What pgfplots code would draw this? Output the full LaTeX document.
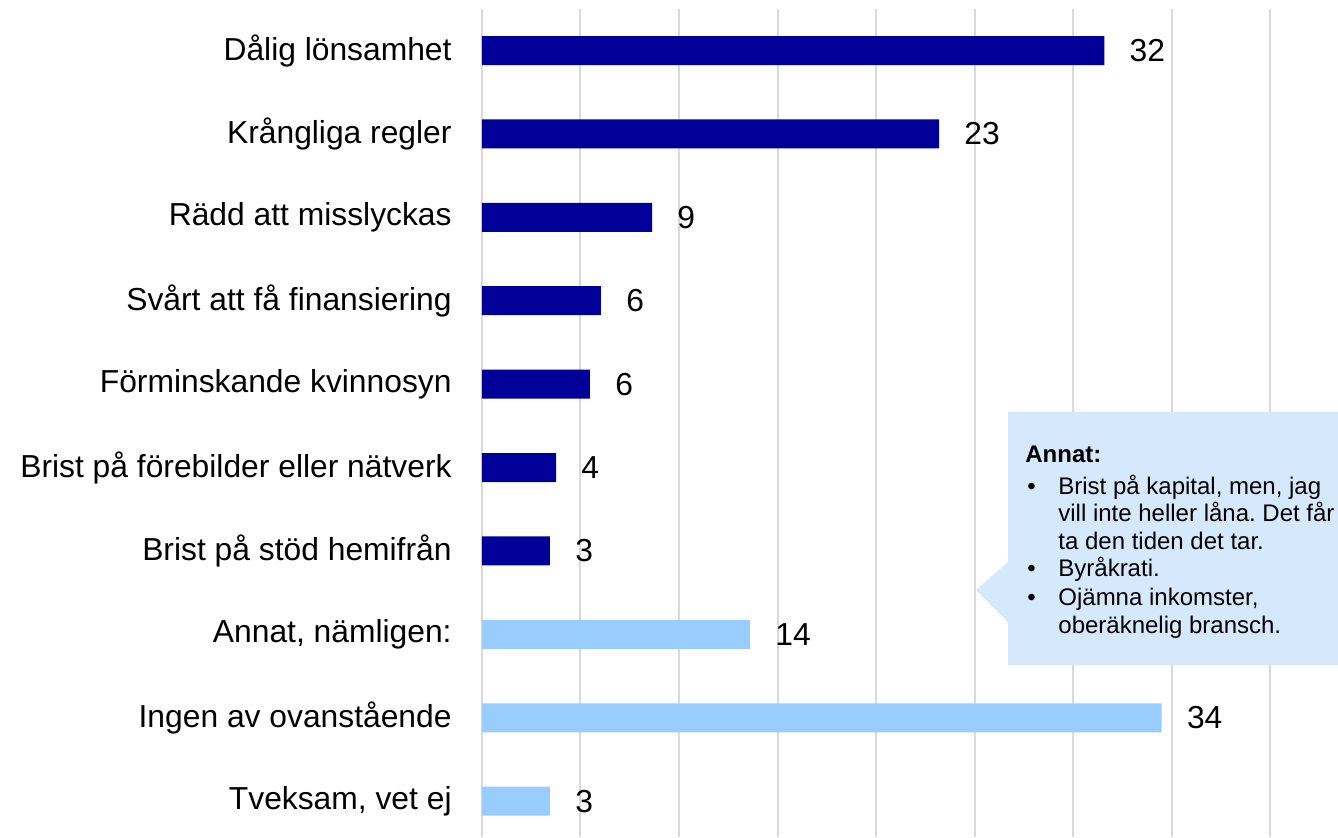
\documentclass[border=0pt]{standalone}
\usepackage{pgfplots}
\pgfplotsset{compat=1.18}
\usepackage{fontspec}
\setmainfont{Liberation Sans}
\frenchspacing
\definecolor{darkbar}{RGB}{0,0,153}
\definecolor{lightbar}{RGB}{153,204,255}
\definecolor{gridgray}{RGB}{217,217,217}
\definecolor{callout}{RGB}{214,232,252}

\begin{document}
\begin{tikzpicture}[x=1bp,y=1bp]
\path[use as bounding box] (-241,0) rectangle (428,418.5);
\begin{axis}[
  at={(0,0)}, anchor=south west,
  scale only axis,
  width=394bp, height=414.1bp,
  xmin=0, xmax=40,
  ymin=-0.5, ymax=9.43,
  y dir=reverse,
  xbar, bar width=14.5bp, bar shift=0pt,
  xtick={0,5,...,40}, xticklabels={},
  xmajorgrids, grid style={gridgray, line width=1bp},
  ytick={0,...,9},
  yticklabels={Dålig lönsamhet, Krångliga regler, Rädd att misslyckas,
    Svårt att få finansiering, Förminskande kvinnosyn,
    Brist på förebilder eller nätverk, Brist på stöd hemifrån,
    {Annat, nämligen:}, Ingen av ovanstående, {Tveksam, vet ej}},
  yticklabel style={font=\fontsize{15.9bp}{18bp}\selectfont, anchor=east,
    inner sep=0pt, xshift=-15bp},
  axis line style={draw=none},
  major tick length=0pt,
  point meta=explicit symbolic,
  nodes near coords,
  nodes near coords style={font=\fontsize{15.9bp}{18bp}\selectfont,
    anchor=west, inner sep=0pt, xshift=12.5bp, text=black},
  clip=false,
]
\addplot[fill=darkbar, draw=none] coordinates {
  (31.59,0) [32]
  (23.2,1) [23]
  (8.63,2) [9]
  (6.04,3) [6]
  (5.48,4) [6]
  (3.76,5) [4]
  (3.45,6) [3]
};
\addplot[fill=lightbar, draw=none] coordinates {
  (13.6,7) [14]
  (34.5,8) [34]
  (3.45,9) [3]
};
\end{axis}
% callout with comments for "Annat"
\fill[callout] (263,212.5) -- (428,212.5) -- (428,86) -- (263,86)
  -- (263,107.5) -- (247,123.5) -- (263,137.5) -- cycle;
\begin{scope}[every node/.style={anchor=base west, inner sep=0pt,
    font=\fontsize{12bp}{14bp}\selectfont}]
\node at (271.5,187.5) {\bfseries Annat:};
\node at (272.5,171.5) {•};
\node at (288,171.5) {Brist på kapital, men, jag};
\node at (288,157.7) {vill inte heller låna. Det får};
\node at (288,144) {ta den tiden det tar.};
\node at (272.5,130.2) {•};
\node at (288,130.2) {Byråkrati.};
\node at (272.5,116) {•};
\node at (288,116) {Ojämna inkomster,};
\node at (288,102) {oberäknelig bransch.};
\end{scope}
\end{tikzpicture}
\end{document}
